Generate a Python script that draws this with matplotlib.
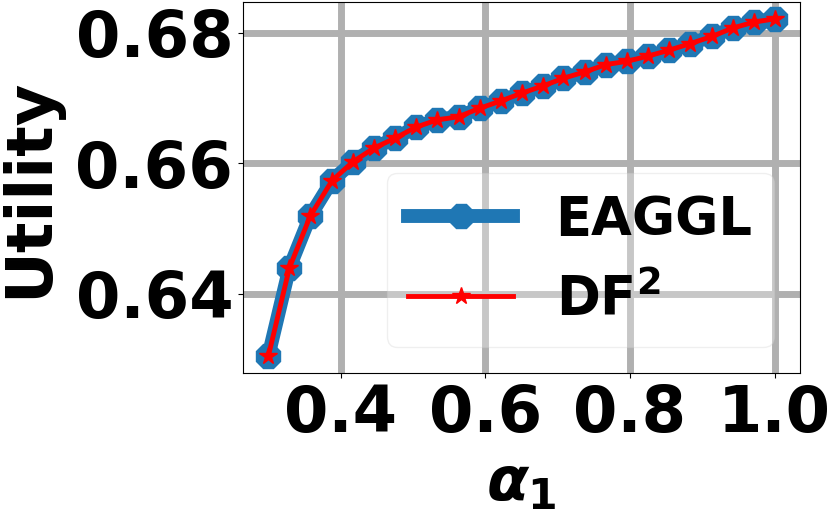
import matplotlib
matplotlib.use("Agg")
import matplotlib.pyplot as plt

plt.rcParams["mathtext.fontset"] = "custom"
plt.rcParams["mathtext.it"] = "DejaVu Sans:bold:italic"
plt.rcParams["mathtext.rm"] = "DejaVu Sans:bold"
plt.rcParams["mathtext.bf"] = "DejaVu Sans:bold"

alpha1 = [0.300, 0.329, 0.358, 0.388, 0.417, 0.446, 0.475, 0.504, 0.533,
          0.563, 0.592, 0.621, 0.650, 0.679, 0.708, 0.738, 0.767, 0.796,
          0.825, 0.854, 0.883, 0.913, 0.942, 0.971, 1.000]
eaggl = [0.6304, 0.6439, 0.6519, 0.6573, 0.6602, 0.6623, 0.6638, 0.6655,
         0.6666, 0.6671, 0.6684, 0.6695, 0.6707, 0.6718, 0.6730, 0.6740,
         0.6751, 0.6756, 0.6764, 0.6773, 0.6783, 0.6794, 0.6807, 0.6816,
         0.6821]
df2 = list(eaggl)

fig = plt.figure(figsize=(8.3, 5.17), dpi=100)
ax = fig.add_axes([0.2928, 0.2785, 0.6711, 0.7176])

ax.plot(alpha1, eaggl, color="tab:blue", marker="8", markersize=18,
        linewidth=10, label="EAGGL")
ax.plot(alpha1, df2, color="red", marker="*", markersize=13,
        linewidth=3.5, label=r"DF$^\mathbf{2}$")

ax.grid(True, color="#b0b0b0", linewidth=5)
ax.set_axisbelow(True)

ax.set_xticks([0.4, 0.6, 0.8, 1.0])
ax.set_yticks([0.64, 0.66, 0.68])
ax.tick_params(labelsize=46)
for lab in ax.get_xticklabels() + ax.get_yticklabels():
    lab.set_fontweight("bold")

ax.set_xlabel(r"$\alpha_1$", fontsize=44, labelpad=7)
ax.set_ylabel("Utility", fontsize=46, fontweight="bold", labelpad=10)

leg = ax.legend(loc="lower right", prop={"size": 38, "weight": "bold"},
                framealpha=0.3)

fig.savefig("out.png", dpi=100)
